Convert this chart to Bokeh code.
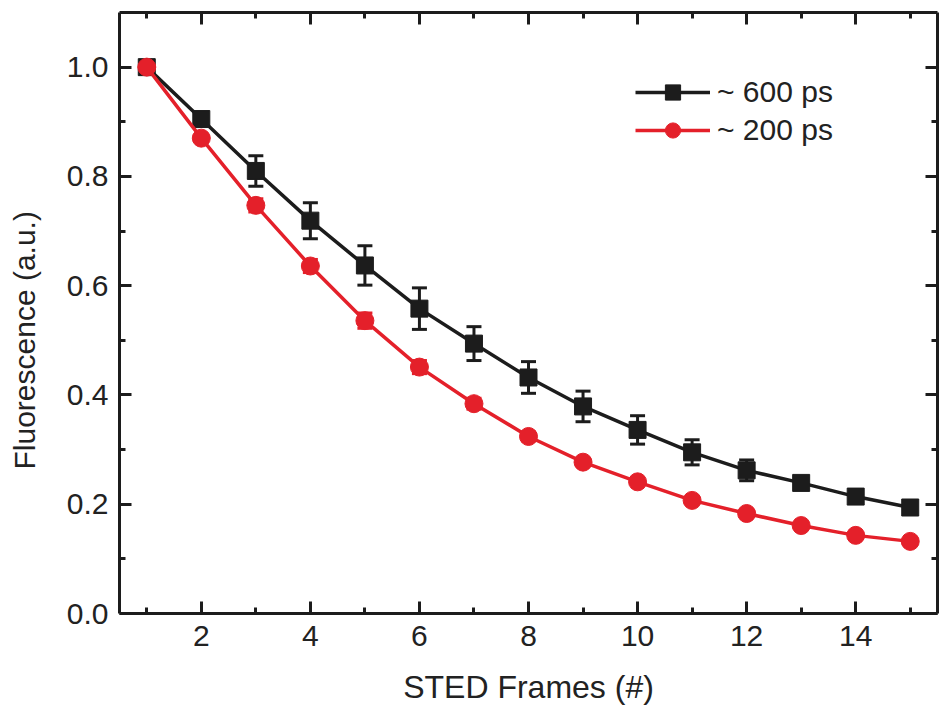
from bokeh.plotting import figure
from bokeh.models import (Range1d, FixedTicker, LinearAxis, Whisker, TeeHead,
                          ColumnDataSource, Legend, LegendItem, Title,
                          CustomJSTickFormatter)
from bokeh.embed import file_html
from bokeh.resources import INLINE

# ---- data ----
frames = list(range(1, 16))
fl_600 = [1.000, 0.905, 0.810, 0.719, 0.637, 0.558, 0.494, 0.432, 0.379,
          0.336, 0.295, 0.262, 0.239, 0.214, 0.194]
err_600 = [0.000, 0.012, 0.028, 0.033, 0.036, 0.038, 0.031, 0.029, 0.028,
           0.026, 0.023, 0.019, 0.008, 0.008, 0.008]
fl_200 = [1.000, 0.870, 0.747, 0.636, 0.536, 0.451, 0.384, 0.324, 0.277,
          0.241, 0.207, 0.183, 0.161, 0.143, 0.132]
err_200 = [0.000, 0.006, 0.012, 0.012, 0.014, 0.012, 0.010, 0.008, 0.006,
           0.005, 0.005, 0.005, 0.005, 0.005, 0.005]
x_major = [2, 4, 6, 8, 10, 12, 14]
x_minor = [1, 3, 5, 7, 9, 11, 13, 15]
y_major = [0.0, 0.2, 0.4, 0.6, 0.8, 1.0]
y_minor = [0.1, 0.3, 0.5, 0.7, 0.9]
y_tick_labels = ["0.0", "0.2", "0.4", "0.6", "0.8", "1.0"]
series_labels = ["~ 600 ps", "~ 200 ps"]

BLACK = "#1c1c1c"
RED = "#e4202a"
FONT = "Liberation Sans"
TEXT = "#222222"

src600 = ColumnDataSource(dict(x=frames, y=fl_600,
                               upper=[v + e for v, e in zip(fl_600, err_600)],
                               lower=[v - e for v, e in zip(fl_600, err_600)]))
src200 = ColumnDataSource(dict(x=frames, y=fl_200,
                               upper=[v + e for v, e in zip(fl_200, err_200)],
                               lower=[v - e for v, e in zip(fl_200, err_200)]))

p = figure(width=940, height=720, x_range=Range1d(0.5, 15.5), y_range=Range1d(0, 1.1),
           output_backend="svg", toolbar_location=None,
           min_border_left=119, min_border_right=3, min_border_top=12, min_border_bottom=107,
           x_axis_label="STED Frames (#)")
p.xgrid.visible = False
p.ygrid.visible = False
p.outline_line_color = None
p.background_fill_color = "white"
p.border_fill_color = "white"

xt = FixedTicker(ticks=x_major, minor_ticks=x_minor)
yt = FixedTicker(ticks=y_major, minor_ticks=y_minor)


def style(ax):
    ax.axis_line_width = 3
    ax.axis_line_color = BLACK
    ax.major_tick_line_width = 3
    ax.minor_tick_line_width = 3
    ax.major_tick_line_color = BLACK
    ax.minor_tick_line_color = BLACK
    ax.major_tick_in = 12
    ax.major_tick_out = 0
    ax.minor_tick_in = 6
    ax.minor_tick_out = 0
    ax.major_label_text_font = FONT
    ax.major_label_text_font_size = "30px"
    ax.major_label_text_color = TEXT
    ax.axis_label_text_font = FONT
    ax.axis_label_text_font_size = "32px"
    ax.axis_label_text_font_style = "normal"
    ax.axis_label_text_color = TEXT


xa = p.xaxis[0]
xa.ticker = xt
style(xa)
xa.major_label_standoff = 12
xa.axis_label_standoff = 20

ya = p.yaxis[0]
ya.ticker = yt
style(ya)
ya.major_label_standoff = 11
ya.major_label_overrides = {v: s for v, s in zip(y_major, y_tick_labels)}

top = LinearAxis(ticker=xt, formatter=CustomJSTickFormatter(code="return ''"))
style(top)
top.major_label_standoff = 0
p.add_layout(top, "above")
right = LinearAxis(ticker=yt, formatter=CustomJSTickFormatter(code="return ''"))
style(right)
right.major_label_standoff = 0
p.add_layout(right, "right")

# error bars
for src, col in ((src600, BLACK), (src200, RED)):
    w = Whisker(source=src, base="x", upper="upper", lower="lower",
                line_color=col, line_width=3,
                upper_head=TeeHead(size=15, line_width=3, line_color=col),
                lower_head=TeeHead(size=15, line_width=3, line_color=col))
    p.add_layout(w)

l1 = p.line("x", "y", source=src600, line_color=BLACK, line_width=3.5)
s1 = p.scatter("x", "y", source=src600, marker="square", size=17,
               fill_color=BLACK, line_color=BLACK)
l2 = p.line("x", "y", source=src200, line_color=RED, line_width=3.5)
s2 = p.scatter("x", "y", source=src200, marker="circle", size=18,
               fill_color=RED, line_color=RED)

legend = Legend(items=[LegendItem(label=series_labels[0], renderers=[l1, s1]),
                       LegendItem(label=series_labels[1], renderers=[l2, s2])],
                location=(516, 464), glyph_width=75, glyph_height=38,
                label_height=38, label_standoff=7, spacing=0, padding=0, margin=0,
                border_line_color=None, background_fill_alpha=0,
                label_text_font=FONT, label_text_font_size="30px",
                label_text_color=TEXT)
p.add_layout(legend)

ytitle = Title(text="Fluorescence (a.u.)", align="left", offset=144, standoff=17,
               padding=dict(left=0, right=0, top=0, bottom=14),
               text_font=FONT, text_font_size="30px", text_font_style="normal",
               text_color=TEXT)
p.add_layout(ytitle, "left")

open("out.html", "w").write(file_html(p, INLINE))
